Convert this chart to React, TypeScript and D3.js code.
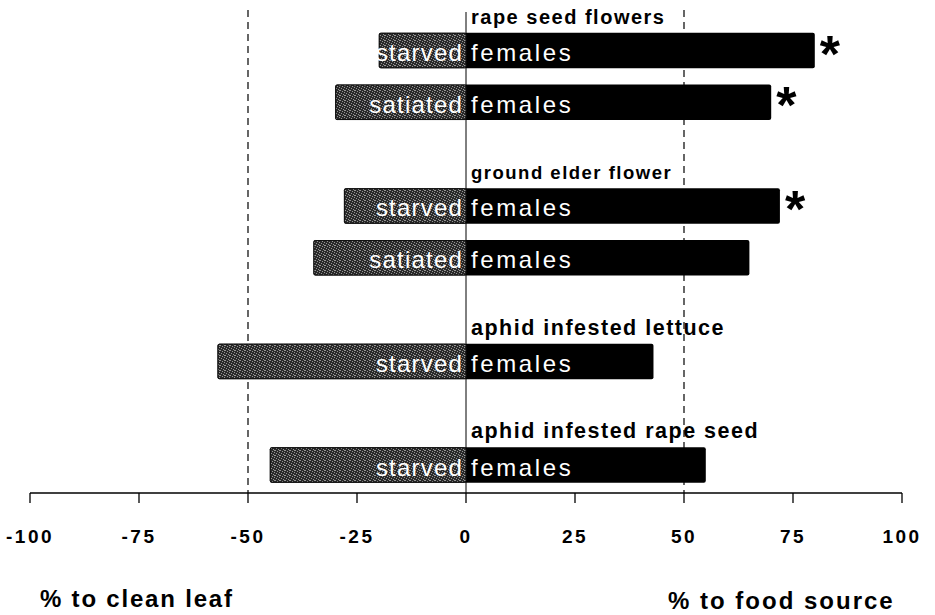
import React from "react";
import * as d3 from "d3";

const groups = ["rape seed flowers", "ground elder flower", "aphid infested lettuce", "aphid infested rape seed"];
const barGroup = [0, 0, 1, 1, 2, 3];
const barCondition = ["starved", "satiated", "starved", "satiated", "starved", "starved"];
const cleanLeaf = [-20, -30, -28, -35, -57, -45];
const foodSource = [80, 70, 72, 65, 43, 55];
const significant = [true, true, true, false, false, false];
const tickValues = [-100, -75, -50, -25, 0, 25, 50, 75, 100];
const dashedValues = [-50, 50];
const leftTitle = "% to clean leaf";
const rightTitle = "% to food source";

const W = 935;
const H = 615;
const FONT = "'Liberation Sans', Arial, Helvetica, sans-serif";
const groupFontSize = [20, 18.5, 21.5, 21.5];

const dots: [number, number][] = [[0, 0], [2, 1], [4, 2], [1, 3], [3, 4], [4, 0]];

export default function App() {
  const x = d3.scaleLinear().domain([-100, 100]).range([30, 902]);
  const slots = barGroup.map((g, i) => i + g);
  const y = d3.scaleLinear().domain([0, 8]).range([50.5, 465]);
  const barH = 35.5;
  const axisY = 493;
  const topY = 10;

  const groupFirst = groups.map((_, g) => barGroup.indexOf(g));

  return (
    <svg width={W} height={H} style={{ position: "absolute", left: 0, top: 0, background: "#fff" }}>
      <defs>
        <pattern id="stipple" width={5} height={5} patternUnits="userSpaceOnUse">
          <rect width={5} height={5} fill="#2a2a2a" />
          {dots.map(([a, b], k) => (
            <rect key={k} x={a} y={b} width={1} height={1} fill="#959595" />
          ))}
        </pattern>
      </defs>
      <rect width={W} height={H} fill="#fff" />

      {/* reference lines */}
      <line x1={x(0)} x2={x(0)} y1={topY + 2} y2={axisY} stroke="#000" strokeWidth={1} />
      {dashedValues.map((v) => (
        <line key={v} x1={x(v)} x2={x(v)} y1={topY} y2={axisY} stroke="#000" strokeWidth={1.2} strokeDasharray="7,5" />
      ))}

      {/* bars */}
      {cleanLeaf.map((c, i) => {
        const cy = y(slots[i]);
        const top = cy - barH / 2;
        return (
          <g key={i}>
            <rect x={x(c)} y={top} width={x(foodSource[i]) - x(c)} height={barH} rx={2} fill="#000" />
            <rect x={x(c) + 0.5} y={top + 0.5} width={x(0) - x(c) - 0.5} height={barH - 1} rx={1.5} fill="url(#stipple)" stroke="#111" strokeWidth={1} />
            <text x={x(0) - 3} y={cy + 10.5} textAnchor="end" fill="#fff" fontFamily={FONT} fontSize={24} letterSpacing={1.2}>
              {barCondition[i]}
            </text>
            <text x={x(0) + 5} y={cy + 10.5} textAnchor="start" fill="#fff" fontFamily={FONT} fontSize={24} letterSpacing={2.6}>
              females
            </text>
            {significant[i] && (
              <text x={x(foodSource[i]) + 5} y={cy + 21} fill="#000" fontFamily={FONT} fontWeight="bold" fontSize={52}>
                *
              </text>
            )}
          </g>
        );
      })}

      {/* group labels */}
      {groups.map((g, k) => {
        const i = groupFirst[k];
        const top = y(slots[i]) - barH / 2;
        return (
          <text key={g} x={x(0) + 5} y={top - 9} fill="#000" fontFamily={FONT} fontWeight="bold" fontSize={groupFontSize[k]} letterSpacing={1.5}>
            {g}
          </text>
        );
      })}

      {/* x axis */}
      <line x1={x(-100)} x2={x(100)} y1={axisY} y2={axisY} stroke="#000" strokeWidth={1.3} />
      {tickValues.map((t) => (
        <g key={t}>
          <line x1={x(t)} x2={x(t)} y1={axisY} y2={axisY + 10} stroke="#000" strokeWidth={1.3} />
          <text x={x(t)} y={543} textAnchor="middle" fill="#000" fontFamily={FONT} fontWeight="bold" fontSize={19} letterSpacing={2.5}>
            {t}
          </text>
        </g>
      ))}

      <text x={40} y={607} fill="#000" fontFamily={FONT} fontWeight="bold" fontSize={24} letterSpacing={1.8}>
        {leftTitle}
      </text>
      <text x={668} y={609} fill="#000" fontFamily={FONT} fontWeight="bold" fontSize={24} letterSpacing={2}>
        {rightTitle}
      </text>
    </svg>
  );
}
